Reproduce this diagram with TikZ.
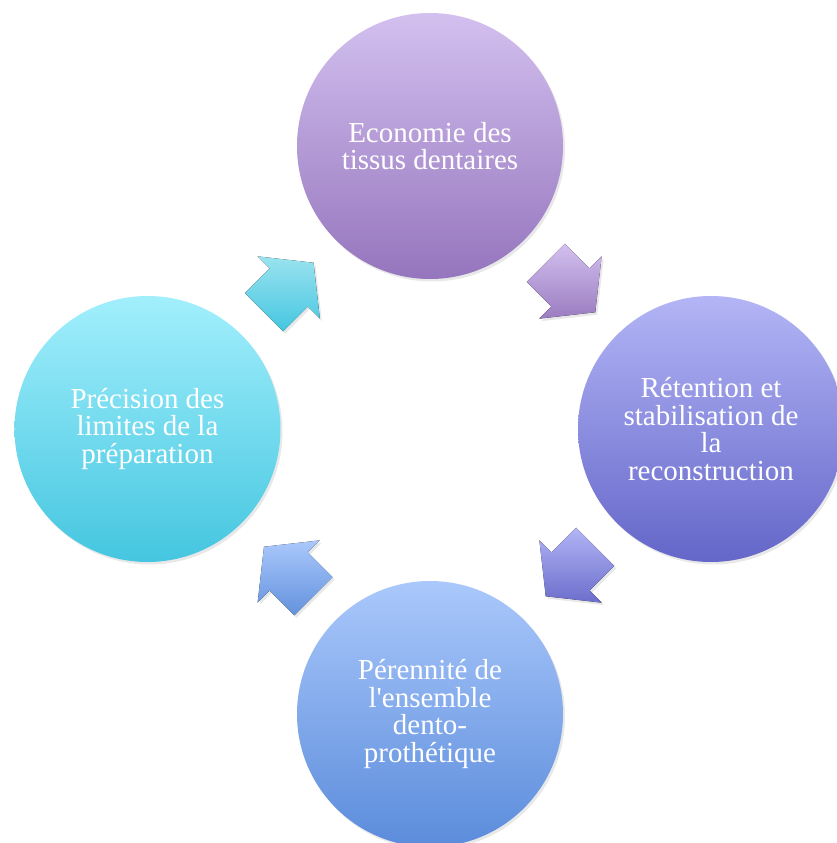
\documentclass[tikz,border=0pt]{standalone}
\usepackage{fontspec}
\setmainfont{Liberation Serif}
\usetikzlibrary{calc,shadows}

\definecolor{ecotop}{HTML}{D3C0EF}
\definecolor{ecobot}{HTML}{9575BD}
\definecolor{rettop}{HTML}{B3B5F6}
\definecolor{retbot}{HTML}{6466C9}
\definecolor{pertop}{HTML}{AAC8FB}
\definecolor{perbot}{HTML}{5B8CDB}
\definecolor{limtop}{HTML}{A2EFFC}
\definecolor{limbot}{HTML}{45C6E0}

\tikzstyle{hub} = [coordinate]
\tikzstyle{stage} = [circle, minimum size=266pt, inner sep=0pt, align=center,
  text=white, font=\fontsize{29}{27.5}\selectfont,
  drop shadow={opacity=0.18, shadow xshift=2pt, shadow yshift=-2.5pt}]
\tikzstyle{turn} = [drop shadow={opacity=0.18, shadow xshift=2pt, shadow yshift=-2.5pt}]

% block arrow half way between two stages: #1,#2 stages, #3 angle, #4 colours
\newcommand{\cyclearrow}[4]{%
  \fill [turn, #4, shift={($(#1)!0.5!(#2)$)}, rotate=#3]
    (-35,-27) -- (0,-27) -- (0,-44) -- (35,0) -- (0,44) -- (0,27) -- (-35,27) -- cycle;}

\begin{document}
\begin{tikzpicture}[x=1pt,y=1pt]
	\useasboundingbox (-430,-414) rectangle (407,429);

	% put the stages round the centre
	\node [hub] (c) at (0,0) {};
	\node [stage,top color=ecotop,bottom color=ecobot,above of=c,node distance=283pt] (eco) {Economie des\\tissus dentaires};
	\node [stage,top color=rettop,bottom color=retbot,right of=c,node distance=281pt] (ret) {Rétention et\\stabilisation de\\la\\reconstruction};
	\node [stage,top color=pertop,bottom color=perbot,below of=c,node distance=285pt] (per) {Pérennité de\\l\textquotesingle ensemble\\dento-\\prothétique};
	\node [stage,top color=limtop,bottom color=limbot,left of=c,node distance=282.5pt] (lim) {Précision des\\limites de la\\préparation};

	% the arrows of the cycle
	\cyclearrow{lim}{eco}{45}{top color=limtop!95!black,bottom color=limbot}
	\cyclearrow{eco}{ret}{-45}{top color=ecotop,bottom color=ecobot!95!white}
	\cyclearrow{ret}{per}{-135}{top color=rettop,bottom color=retbot!95!white}
	\cyclearrow{per}{lim}{135}{top color=pertop,bottom color=perbot!95!white}

\end{tikzpicture}
\end{document}
